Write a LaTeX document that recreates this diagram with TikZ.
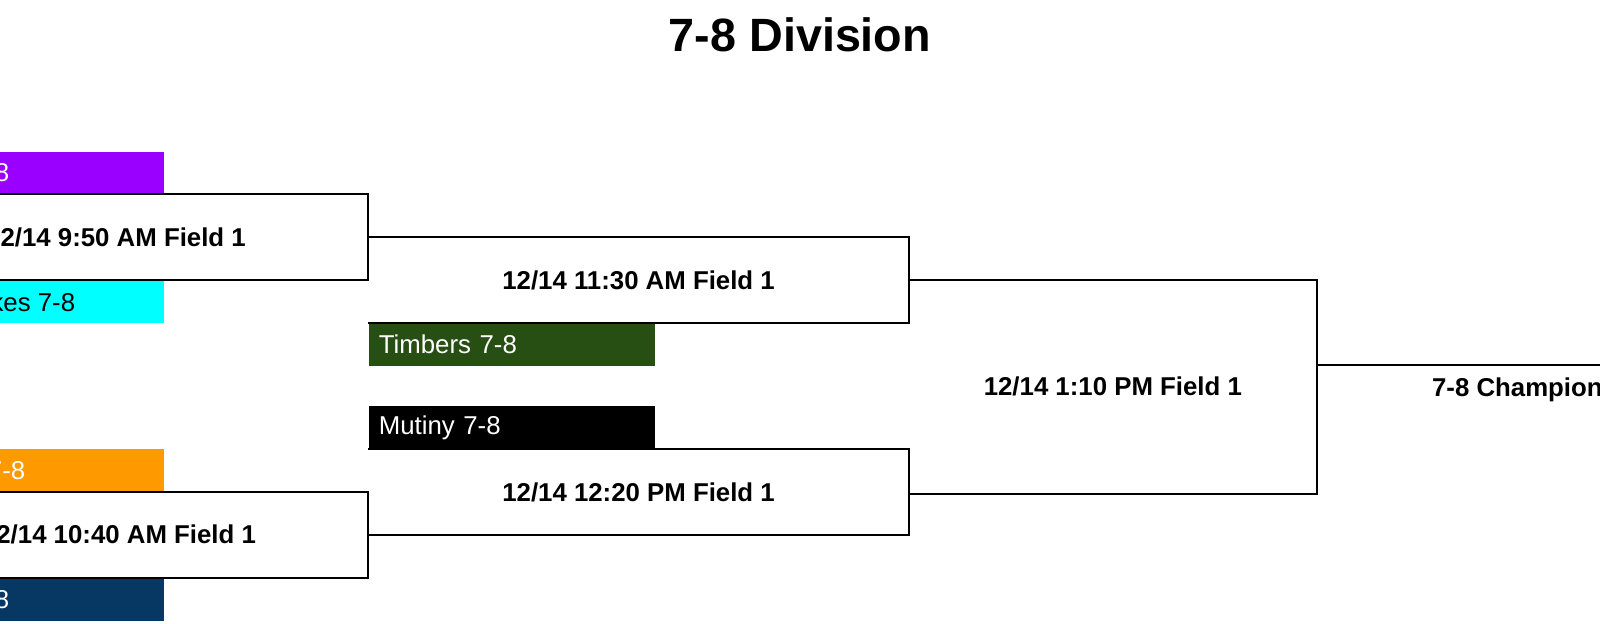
\documentclass[tikz,border=0pt]{standalone}
\usepackage{fontspec}
\setmainfont{Liberation Sans}
\usepackage{xcolor}
\usetikzlibrary{positioning}
\definecolor{teampurple}{HTML}{9900FF}
\definecolor{teamcyan}{HTML}{00FFFF}
\definecolor{teamorange}{HTML}{FF9900}
\definecolor{teamnavy}{HTML}{073763}
\definecolor{teamgreen}{HTML}{274E13}

\begin{document}
\begin{tikzpicture}[x=0.5pt, y=-0.5pt,
matchbox/.style={rectangle, inner sep=0pt, minimum height=42.5pt, font=\fontsize{12.9}{15}\selectfont\bfseries},
teambox/.style={rectangle, inner sep=0pt, minimum width=143pt, minimum height=21.25pt},
teamname/.style={inner sep=0pt, text=white, font=\fontsize{12.9}{15}\selectfont},
bracket/.style={draw=black, line width=1pt},
]
\useasboundingbox (0,0) rectangle (1600,623);
\fill[white] (0,0) rectangle (1600,623);
\clip (0,0) rectangle (1600,623);

%Title
\node[font=\fontsize{23.35}{28}\selectfont\bfseries](Title) at (800,35){7-8 Division};

%Matches
\node[matchbox, minimum width=252pt](GameA) at (116,237.3){12/14 9:50 AM Field 1};
\node[matchbox, minimum width=249pt](GameB) at (119,534.8){12/14 10:40 AM Field 1};
\node[matchbox, minimum width=269.75pt, anchor=north west](GameC) at (GameA.east){12/14 11:30 AM Field 1};
\node[matchbox, minimum width=269.75pt, anchor=south west](GameD) at (GameB.east){12/14 12:20 PM Field 1};
\node[matchbox, minimum width=203.75pt, minimum height=106.25pt, anchor=north west](GameE) at (GameC.east){12/14 1:10 PM Field 1};
\node[matchbox, minimum width=200pt, minimum height=21.25pt, text depth=0pt, anchor=west](Champion) at (GameE.east){7-8 Champion};

%Teams
\node[teambox, fill=teampurple, anchor=south east](TeamA) at ([xshift=-102pt]GameA.north east){};
\node[teambox, fill=teamcyan, anchor=north east](TeamB) at ([xshift=-102pt]GameA.south east){};
\node[teambox, fill=teamorange, anchor=south east](TeamC) at ([xshift=-102pt]GameB.north east){};
\node[teambox, fill=teamnavy, anchor=north east](TeamD) at ([xshift=-102pt]GameB.south east){};
\node[teambox, fill=teamgreen, anchor=north west, text width=133pt, align=left, text=white, font=\fontsize{12.9}{15}\selectfont](Timbers) at (GameC.south west){Timbers 7-8};
\node[teambox, fill=black, anchor=south west, text width=133pt, align=left, text=white, font=\fontsize{12.9}{15}\selectfont](Mutiny) at (GameD.north west){Mutiny 7-8};
\node[teamname, anchor=east](NameA) at ([xshift=66pt]TeamA.west){8};
\node[teamname, text=black, anchor=east](NameB) at ([xshift=99pt]TeamB.west){kes 7-8};
\node[teamname, anchor=east](NameC) at ([xshift=74pt]TeamC.west){7-8};
\node[teamname, anchor=east](NameD) at ([xshift=66pt]TeamD.west){8};

%Lines
\draw[bracket] (GameA.north west) -- (GameA.north east) -- (GameA.south east) -- (GameA.south west);
\draw[bracket] (GameB.north west) -- (GameB.north east) -- (GameB.south east) -- (GameB.south west);
\draw[bracket] (GameC.north west) -- (GameC.north east) -- (GameC.south east) -- (GameC.south west);
\draw[bracket] (GameD.north west) -- (GameD.north east) -- (GameD.south east) -- (GameD.south west);
\draw[bracket] (GameE.north west) -- (GameE.north east) -- (GameE.south east) -- (GameE.south west);
\draw[bracket] (Champion.north west) -- (Champion.north east);
\end{tikzpicture}
\end{document}
